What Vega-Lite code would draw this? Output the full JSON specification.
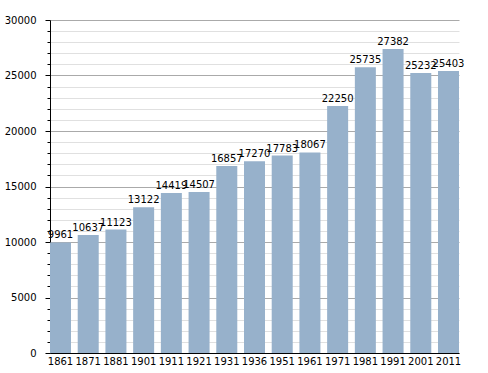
{
  "$schema": "https://vega.github.io/schema/vega-lite/v6.json",
  "width": 409,
  "height": 333,
  "autosize": {"type": "none"},
  "padding": {"left": 50, "top": 20, "right": 29, "bottom": 20},
  "background": "white",
  "config": {
    "view": {"stroke": null},
    "font": "DejaVu Sans"
  },
  "data": {
    "values": [
      {"year": "1861", "pop": 9961},
      {"year": "1871", "pop": 10637},
      {"year": "1881", "pop": 11123},
      {"year": "1901", "pop": 13122},
      {"year": "1911", "pop": 14419},
      {"year": "1921", "pop": 14507},
      {"year": "1931", "pop": 16857},
      {"year": "1936", "pop": 17270},
      {"year": "1951", "pop": 17783},
      {"year": "1961", "pop": 18067},
      {"year": "1971", "pop": 22250},
      {"year": "1981", "pop": 25735},
      {"year": "1991", "pop": 27382},
      {"year": "2001", "pop": 25232},
      {"year": "2011", "pop": 25403}
    ]
  },
  "encoding": {
    "x": {
      "field": "year",
      "type": "ordinal",
      "sort": null,
      "scale": {"paddingInner": 0.242, "paddingOuter": 0},
      "axis": {
        "title": null,
        "labelAngle": 0,
        "ticks": false,
        "labelPadding": 3,
        "labelFontSize": 10,
        "labelColor": "black",
        "labelOverlap": false,
        "labelFont": "DejaVu Sans",
        "domainColor": "black",
        "domainWidth": 1,
        "grid": false
      }
    },
    "y": {
      "field": "pop",
      "type": "quantitative",
      "scale": {"domain": [0, 30000], "nice": false},
      "axis": {
        "title": null,
        "values": [0,1000,2000,3000,4000,5000,6000,7000,8000,9000,10000,11000,12000,13000,14000,15000,16000,17000,18000,19000,20000,21000,22000,23000,24000,25000,26000,27000,28000,29000,30000],
        "labelExpr": "datum.value % 5000 === 0 ? datum.label : ''",
        "format": "d",
        "grid": true,
        "gridColor": {"condition": {"test": "datum.value % 5000 === 0", "value": "#aaaaaa"}, "value": "#e0e0e0"},
        "gridWidth": 1,
        "tickSize": {"condition": {"test": "datum.value % 5000 === 0", "value": 5}, "value": 3},
        "tickColor": "black",
        "domainColor": "black",
        "labelPadding": 9,
        "labelFontSize": 10,
        "labelColor": "black",
        "labelFont": "DejaVu Sans",
        "labelOverlap": false
      }
    }
  },
  "layer": [
    {
      "mark": {"type": "bar", "color": "#97b1cb"}
    },
    {
      "mark": {"type": "text", "baseline": "alphabetic", "dy": -4, "fontSize": 10, "color": "black", "font": "DejaVu Sans"},
      "encoding": {"text": {"field": "pop", "type": "quantitative", "format": "d"}}
    }
  ]
}
